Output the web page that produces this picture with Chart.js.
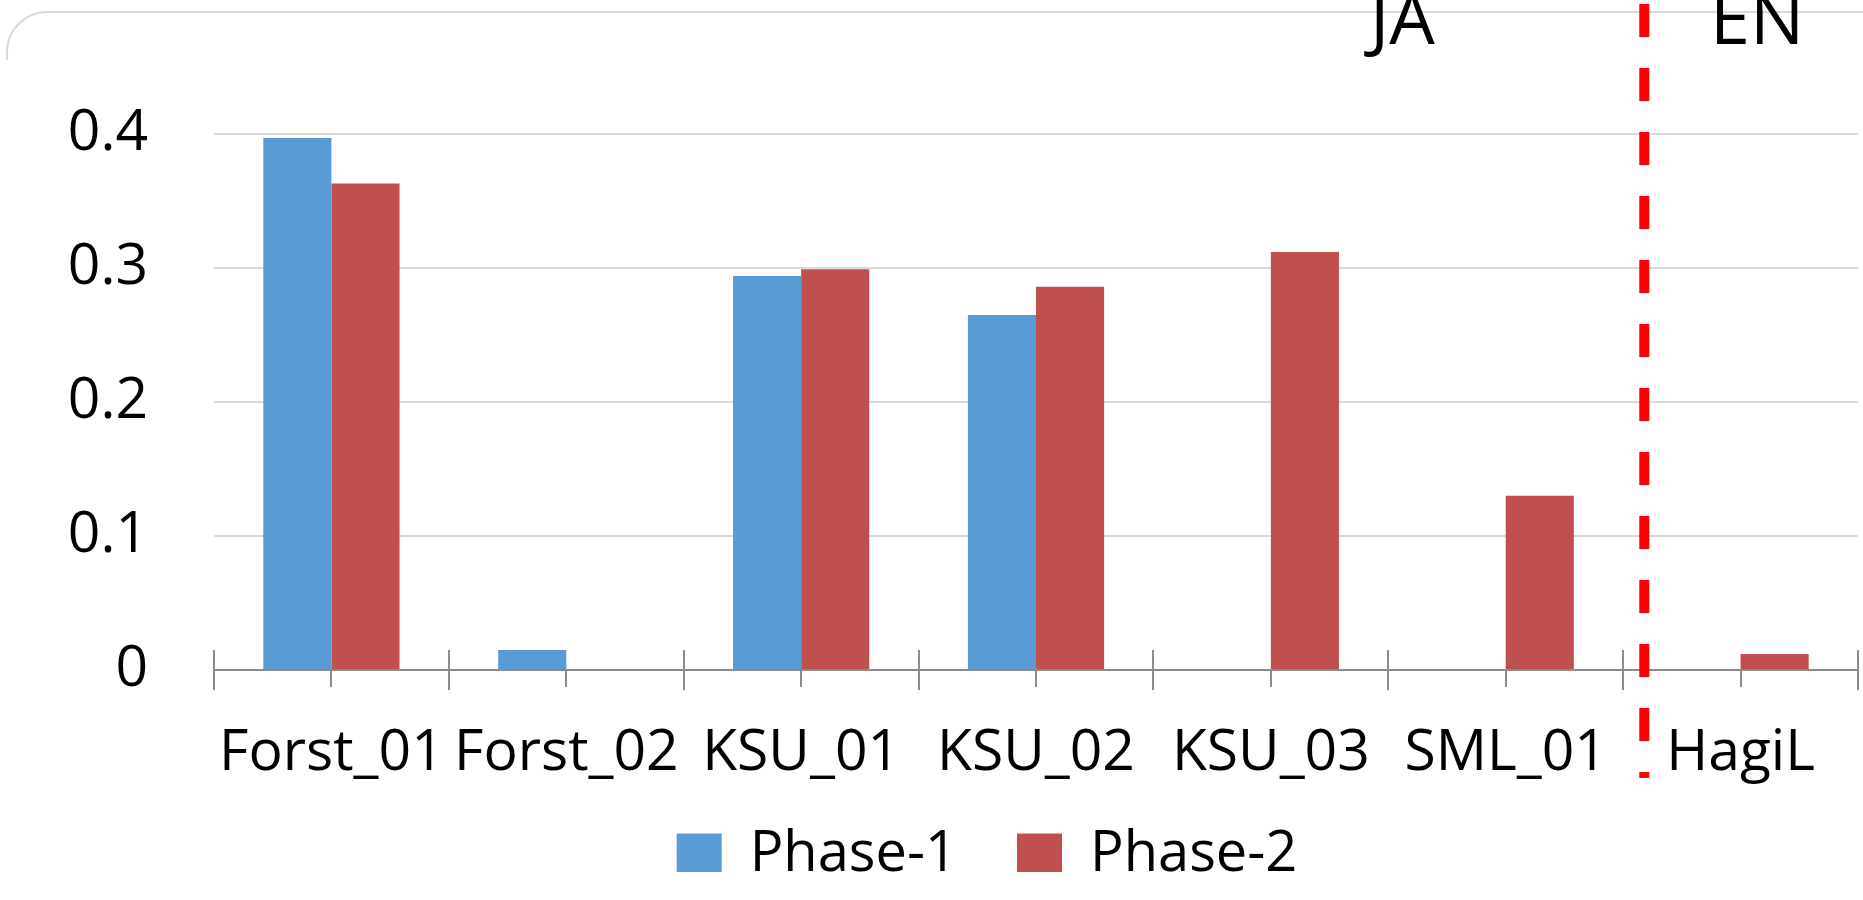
<!DOCTYPE html>
<html>
<head>
<meta charset="utf-8">
<title>Phase-1 / Phase-2</title>
<script src="https://cdn.jsdelivr.net/npm/chart.js@4.4.1/dist/chart.umd.min.js"></script>
<style>
  html, body { margin: 0; padding: 0; background: #fff; }
  #wrap { width: 1863px; height: 900px; position: relative; }
</style>
</head>
<body>
<div id="wrap"><canvas id="barChart"></canvas></div>
<script>
// data
var categories = ['Forst_01', 'Forst_02', 'KSU_01', 'KSU_02', 'KSU_03', 'SML_01', 'HagiL'];
var phase1 = [0.397, 0.015, 0.294, 0.265, null, null, null];
var phase2 = [0.363, null, 0.299, 0.286, 0.312, 0.130, 0.012];
var yTicks = [0, 0.1, 0.2, 0.3, 0.4];
var yMax = 0.5;

// JA / EN split marker, in category units
var splitAt = 5.59;
var groupLabels = ['JA', 'EN'];
var groupAt = [4.56, 6.07];

var BLUE = '#5B9BD5';
var RED = '#C0504D';
var AXIS = '#8c8c8c';
var GRID = '#d9d9d9';

Chart.defaults.font.family = "'Open Sans', sans-serif";
Chart.defaults.color = '#000';

// excel style extras: frame, cross ticks, dashed divider, group titles
var extras = {
	id: 'extras',
	afterLayout: function(chart) {
		// nudge the legend to where the excel one sits
		var lg = chart.legend;
		lg.left += 58; lg.right += 58;
		lg.top -= 28; lg.bottom -= 28;
	},
	beforeDraw: function(chart) {
		var ctx = chart.ctx;
		ctx.save();
		ctx.strokeStyle = GRID;
		ctx.lineWidth = 2;
		ctx.beginPath();
		ctx.moveTo(7, 60);
		ctx.arcTo(7, 12, 55, 12, 40);
		ctx.lineTo(chart.width, 12);
		ctx.stroke();
		ctx.restore();
	},
	afterDraw: function(chart) {
		var ctx = chart.ctx;
		var x = chart.scales.x;
		var y0 = chart.scales.y.getPixelForValue(0);
		ctx.save();
		ctx.strokeStyle = AXIS;
		ctx.lineWidth = 2;
		ctx.beginPath();
		for (var i = 0; i <= categories.length; i++) {
			var bx = Math.round(x.getPixelForValue(i - 0.5));
			ctx.moveTo(bx, y0 - 20);
			ctx.lineTo(bx, y0 + 20);
		}
		for (var j = 0; j < categories.length; j++) {
			var cx = Math.round(x.getPixelForValue(j));
			ctx.moveTo(cx, y0);
			ctx.lineTo(cx, y0 + 17);
		}
		ctx.stroke();

		// red dashed divider
		var sx = x.getPixelForValue(splitAt);
		ctx.strokeStyle = '#FF0000';
		ctx.lineWidth = 10;
		ctx.setLineDash([33, 31]);
		ctx.beginPath();
		ctx.moveTo(sx, 4);
		ctx.lineTo(sx, y0 + 108);
		ctx.stroke();
		ctx.setLineDash([]);

		ctx.fillStyle = '#000';
		ctx.font = "72px 'Open Sans', sans-serif";
		ctx.textAlign = 'center';
		ctx.textBaseline = 'alphabetic';
		for (var k = 0; k < groupLabels.length; k++) {
			ctx.fillText(groupLabels[k], x.getPixelForValue(groupAt[k]), 44);
		}
		ctx.restore();
	}
};

var ctx = document.getElementById('barChart');
var myBarChart = new Chart(ctx, {
	type: 'bar',
	data: {
		labels: categories,
		datasets: [{
			label: 'Phase-1',
			data: phase1,
			backgroundColor: BLUE,
			borderWidth: 0
		}, {
			label: 'Phase-2',
			data: phase2,
			backgroundColor: RED,
			borderWidth: 0
		}]
	},
	options: {
		responsive: true,
		maintainAspectRatio: false,
		animation: false,
		categoryPercentage: 0.58,
		barPercentage: 1.0,
		layout: { padding: { left: 0, right: 5, top: 0, bottom: 0 } },
		plugins: {
			legend: {
				position: 'bottom',
				maxHeight: 105,
				labels: {
					boxWidth: 45,
					boxHeight: 43,
					padding: 60,
					font: { size: 56 }
				}
			},
			tooltip: { enabled: false }
		},
		scales: {
			x: {
				grid: { display: false, drawTicks: false },
				border: { display: true, color: AXIS, width: 2 },
				ticks: { font: { size: 57 }, padding: 50, maxRotation: 0, autoSkip: false },
				afterFit: function(scale) {
					scale.height = 125;
					scale.paddingLeft = 0; scale.paddingRight = 0;
				}
			},
			y: {
				min: 0,
				max: yMax,
				afterBuildTicks: function(scale) {
					scale.ticks = yTicks.concat([yMax]).map(function(v) { return { value: v }; });
				},
				grid: {
					drawTicks: false,
					lineWidth: 2,
					color: function(c) {
						return c.tick && c.tick.value === 0 ? 'rgba(0,0,0,0)' : GRID;
					}
				},
				border: { display: false },
				ticks: {
					font: { size: 57 },
					padding: 66,
					callback: function(v) {
						if (v >= yMax) return null;
						return String(Number(v.toFixed(1)));
					}
				},
				afterFit: function(scale) {
					scale.width = 214;
					scale.paddingTop = 0; scale.paddingBottom = 0;
				}
			}
		}
	},
	plugins: [extras]
});
</script>
</body>
</html>
